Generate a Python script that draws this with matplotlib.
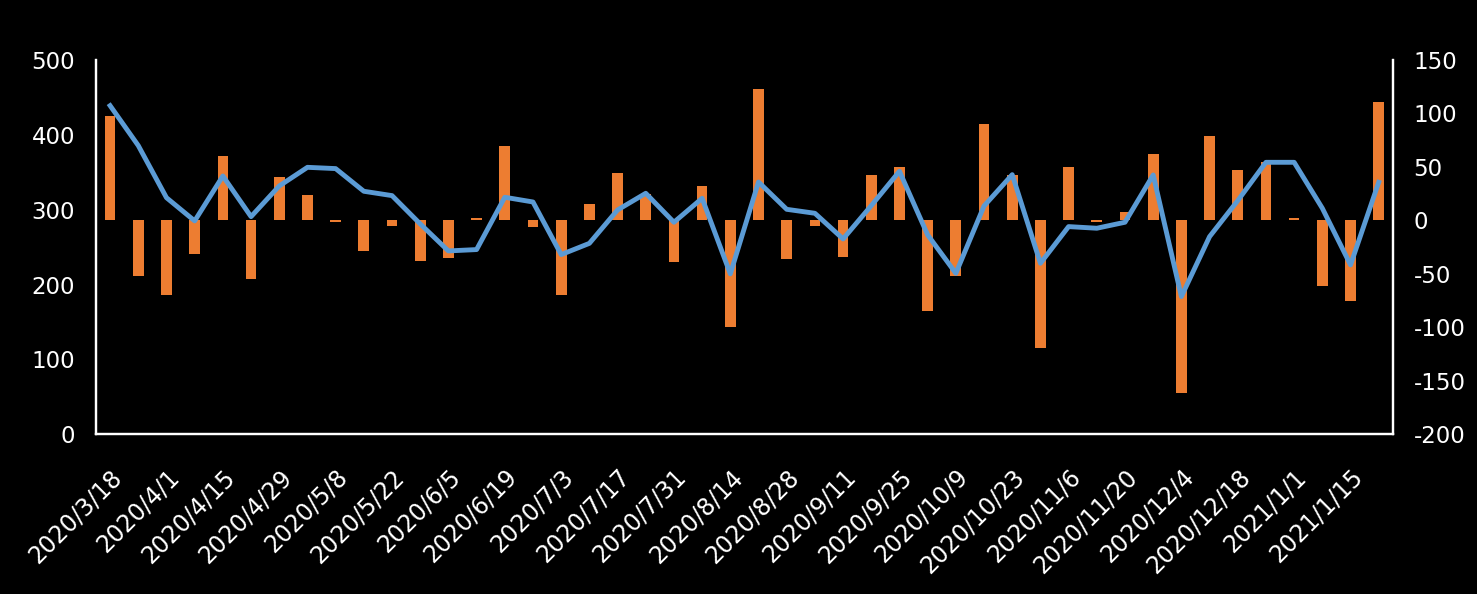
import numpy as np
import matplotlib
matplotlib.use("Agg")
import matplotlib.pyplot as plt

# ------------------------------------------------------------
# datos
# ------------------------------------------------------------
dates = ["2020/3/18", "2020/3/25", "2020/4/1", "2020/4/8", "2020/4/15", "2020/4/22",
         "2020/4/29", "2020/4/30", "2020/5/8", "2020/5/15", "2020/5/22", "2020/5/29",
         "2020/6/5", "2020/6/12", "2020/6/19", "2020/6/26", "2020/7/3", "2020/7/10",
         "2020/7/17", "2020/7/24", "2020/7/31", "2020/8/7", "2020/8/14", "2020/8/21",
         "2020/8/28", "2020/9/4", "2020/9/11", "2020/9/18", "2020/9/25", "2020/9/30",
         "2020/10/9", "2020/10/16", "2020/10/23", "2020/10/30", "2020/11/6", "2020/11/13",
         "2020/11/20", "2020/11/27", "2020/12/4", "2020/12/11", "2020/12/18", "2020/12/25",
         "2021/1/1", "2021/1/8", "2021/1/15", "2021/1/22"]

# barras (eje derecho)
change = [97.3, -52.4, -69.5, -31.8, 60.5, -54.6, 40.8, 24.0, -1.9, -28.4,
          -5.6, -38.3, -35.5, 2.5, 69.8, -6.5, -70.1, 15.6, 44.6, 25.0,
          -39.3, 32.4, -100.0, 123.1, -35.8, -5.6, -34.6, 42.7, 49.6, -85.1,
          -52.4, 90.4, 42.7, -119.3, 50.2, -1.5, 8.1, 62.3, -161.8, 79.2,
          47.4, 55.0, 2.5, -61.7, -75.7, 111.0]

# linea (eje izquierdo)
level = [439, 385.6, 316, 285, 345, 290.7, 331.7, 356.6, 354.9, 324.6,
         318.8, 281, 244.9, 246.7, 316.6, 310.3, 240, 255, 299.6, 321.9,
         283.2, 315.2, 214.2, 337, 300.5, 295.2, 260.9, 305.4, 351.3, 266.3,
         215, 305, 346.8, 228.4, 277.4, 275.2, 283.2, 346.4, 183.9, 264,
         312.1, 363.3, 363.3, 301.9, 226.2, 336.6]

left_ticks = [0, 100, 200, 300, 400, 500]
right_ticks = [-200, -150, -100, -50, 0, 50, 100, 150]

# ------------------------------------------------------------
# figura
# ------------------------------------------------------------
plt.rcParams['font.family'] = 'DejaVu Sans'
plt.rcParams['axes.unicode_minus'] = False

fig = plt.figure(figsize=(14.77, 5.94), dpi=100, facecolor='black')
ax = fig.add_axes([0.065, 0.269, 0.878, 0.630])
ax2 = ax.twinx()

x = np.arange(len(dates))

ax2.bar(x, change, width=0.38, color='#ED7D31', zorder=2)
ax.plot(x, level, color='#5B9BD5', linewidth=3.5, solid_joinstyle='round', zorder=3)

# linea encima de las barras
ax.set_zorder(ax2.get_zorder() + 1)
ax.patch.set_visible(False)

ax.set_xlim(-0.5, len(dates) - 0.5)
ax.set_ylim(0, 500)
ax2.set_ylim(-200, 150)
ax.set_yticks(left_ticks)
ax2.set_yticks(right_ticks)

ax.set_xticks(x[::2])
ax.set_xticklabels(dates[::2], rotation=45, ha='right', va='top',
                   rotation_mode='anchor', fontsize=17, color='white')

ax.tick_params(axis='y', length=0, pad=15, labelsize=16.5, labelcolor='white')
ax2.tick_params(axis='y', length=0, pad=15, labelsize=16.5, labelcolor='white')
ax.tick_params(axis='x', length=0, pad=22)

for a in (ax, ax2):
    for s in a.spines.values():
        s.set_color('white')
        s.set_linewidth(1.6)
    a.spines['top'].set_visible(False)

plt.savefig("out.png", dpi=100, facecolor='black')
